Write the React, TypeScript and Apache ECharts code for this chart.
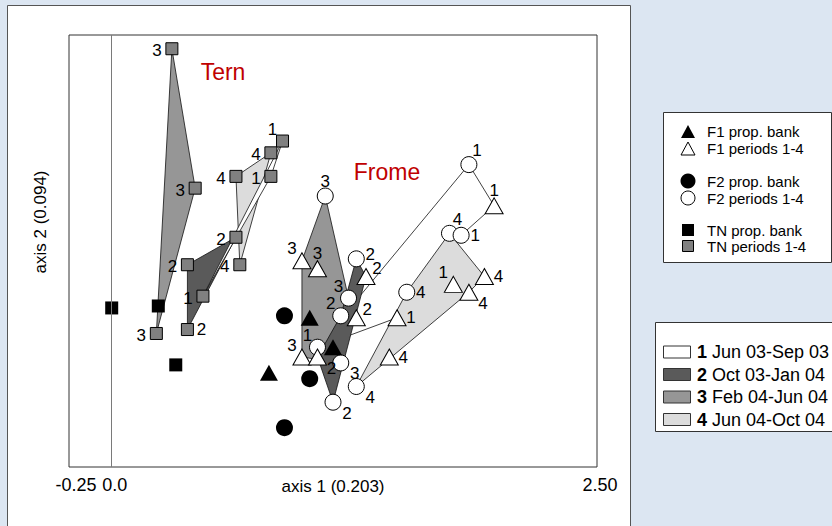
import React, { useEffect, useRef } from "react";
import * as echarts from "echarts";

const FONT = '"Liberation Sans", Arial, Helvetica, sans-serif';

// Sampling periods (legend order) and their hull fills
const periodNames = ["Jun 03-Sep 03", "Oct 03-Jan 04", "Feb 04-Jun 04", "Jun 04-Oct 04"];
const periodFills = ["#ffffff", "#5a5a5a", "#969696", "#dcdcdc"];

// Tern (TN): samples per period
const tnX = [0.31, 0.43, 0.23, 0.88, 0.82, 0.82, 0.64, 0.64, 0.66, 0.39, 0.47, 0.39];
const tnY = [1.13, 0.42, -0.32, 0.66, 0.60, 0.48, 0.48, 0.17, 0.03, 0.03, -0.13, -0.30];
const tnPeriod = [3, 3, 3, 1, 4, 1, 4, 2, 4, 2, 1, 2];
const tnLabelAt = ["L", "L", "L", "TL", "L", "L", "L", "L", "L", "L", "L", "R"];
// Tern: propagule bank
const tnBankX = [0.0, 0.24, 0.33];
const tnBankY = [-0.19, -0.18, -0.48];

// Frome F1: samples per period
const f1X = [0.98, 1.06, 1.31, 1.26, 0.98, 1.06, 1.97, 1.76, 1.92, 1.84, 1.47, 1.43];
const f1Y = [0.05, 0.01, -0.03, -0.24, -0.44, -0.44, 0.33, -0.07, -0.03, -0.11, -0.24, -0.44];
const f1Period = [3, 3, 2, 2, 3, 2, 1, 1, 4, 4, 1, 4];
const f1LabelAt = ["TL", "T", "RU", "RU", "TL", "BR", "T", "TL", "R", "BR", "R", "R"];
// Frome F1: propagule bank
const f1BankX = [1.02, 1.14, 0.81];
const f1BankY = [-0.24, -0.39, -0.52];

// Frome F2: samples per period
const f2X = [1.10, 1.26, 1.22, 1.18, 1.06, 1.18, 1.26, 1.14, 1.84, 1.74, 1.80, 1.52];
const f2Y = [0.38, 0.06, -0.14, -0.23, -0.39, -0.47, -0.59, -0.67, 0.54, 0.19, 0.18, -0.11];
const f2Period = [3, 2, 3, 2, 1, 3, 4, 2, 1, 4, 1, 4];
const f2LabelAt = ["T", "RH", "TL", "TL", "TL", "BR", "BR", "BR", "TR", "TR", "R", "R"];
// Frome F2: propagule bank
const f2BankX = [0.89, 1.02, 0.89];
const f2BankY = [-0.23, -0.55, -0.80];

// Axis 1 tick values and their printed labels
const xTickValues = [-0.22, 0, 2.5];
const xTickLabels = ["-0.25", "0.0", "2.50"];

// Period hulls: vertices refer to samples in the site arrays above (drawn in this order)
const hulls: { period: number; verts: [string, number][] }[] = [
  { period: 3, verts: [["tn", 0], ["tn", 1], ["tn", 2]] },
  { period: 4, verts: [["tn", 4], ["tn", 6], ["tn", 8]] },
  { period: 2, verts: [["tn", 9], ["tn", 7], ["tn", 11]] },
  { period: 1, verts: [["tn", 3], ["tn", 5], ["tn", 10]] },
  { period: 1, verts: [["f2", 8], ["f1", 6], ["f2", 10], ["f1", 10], ["f2", 4]] },
  { period: 4, verts: [["f2", 9], ["f1", 8], ["f1", 9], ["f2", 6], ["f2", 11]] },
  { period: 3, verts: [["f2", 0], ["f1", 0], ["f1", 4], ["f2", 5], ["f2", 2]] },
  { period: 2, verts: [["f2", 1], ["f1", 2], ["f2", 7], ["f1", 5], ["f2", 3]] },
];

const sites: Record<string, [number[], number[]]> = {
  tn: [tnX, tnY],
  f1: [f1X, f1Y],
  f2: [f2X, f2Y],
};

// where each period number sits around its marker
const labelShift: Record<string, [number, number]> = {
  T: [0, -15],
  TL: [-10, -12],
  TR: [8, -14],
  R: [14, 0],
  RH: [14, -4],
  RU: [11, -8],
  L: [-15, 2],
  BR: [14, 11],
};

function sampleItems(xs: number[], ys: number[], at: string[]) {
  return xs.map((x, i) => ({ value: [x, ys[i]], label: { offset: labelShift[at[i]] } }));
}

function bankItems(xs: number[], ys: number[]) {
  return xs.map((x, i) => [x, ys[i]]);
}

function periodLabel(periods: number[]) {
  return {
    show: true,
    position: "inside" as const,
    color: "#000",
    fontSize: 17,
    fontFamily: FONT,
    formatter: (p: any) => String(periods[p.dataIndex]),
  };
}

export default function App() {
  const ref = useRef<HTMLDivElement>(null);

  useEffect(() => {
    if (!ref.current) return;
    const chart = echarts.init(ref.current, undefined, { renderer: "svg" });

    const hullData = hulls.map((h, i) => {
      const [s, k] = h.verts[0];
      return [sites[s][0][k], sites[s][1][k], i];
    });

    const option: any = {
      animation: false,
      backgroundColor: "#dce6f2",
      textStyle: { fontFamily: FONT },
      grid: {
        left: 69,
        top: 35,
        width: 528,
        height: 432,
        show: true,
        backgroundColor: "#ffffff",
        borderColor: "#333333",
        borderWidth: 1,
        z: 1,
      },
      xAxis: {
        type: "value",
        min: -0.22,
        max: 2.5,
        axisLine: { show: false },
        axisTick: { show: false },
        splitLine: { show: false },
        axisLabel: {
          customValues: xTickValues,
          margin: 9,
          color: "#000",
          fontSize: 18,
          fontFamily: FONT,
          formatter: (v: number) => {
            const i = xTickValues.findIndex((t) => Math.abs(t - v) < 1e-6);
            if (i < 0) return "";
            return i === 0 ? `{first|${xTickLabels[i]}}` : `{rest|${xTickLabels[i]}}`;
          },
          rich: {
            first: { fontSize: 18, fontFamily: FONT, color: "#000", padding: [0, 0, 0, 14] },
            rest: { fontSize: 18, fontFamily: FONT, color: "#000", padding: [0, 0, 0, 6] },
          },
        },
      },
      yAxis: {
        type: "value",
        min: -1,
        max: 1.2,
        axisLine: { show: false },
        axisTick: { show: false },
        axisLabel: { show: false },
        splitLine: { show: false },
      },
      series: [
        {
          name: "hulls",
          type: "custom",
          z: 2,
          silent: true,
          encode: { x: 0, y: 1 },
          data: hullData,
          renderItem: (_params: any, api: any) => {
            const h = hulls[api.value(2)];
            const pts = h.verts.map(([s, k]) => api.coord([sites[s][0][k], sites[s][1][k]]));
            return {
              type: "polygon",
              shape: { points: pts },
              style: { fill: periodFills[h.period - 1], stroke: "#111", lineWidth: 0.8 },
            };
          },
          markLine: {
            silent: true,
            symbol: ["none", "none"],
            label: { show: false },
            lineStyle: { color: "#7a7a7a", width: 1, type: "solid" },
            data: [{ xAxis: 0 }],
          },
        },
        {
          name: "TN periods 1-4",
          type: "scatter",
          z: 4,
          silent: true,
          symbol: "rect",
          symbolSize: 12,
          itemStyle: { color: "#808080", borderColor: "#000", borderWidth: 1, opacity: 1 },
          label: periodLabel(tnPeriod),
          data: sampleItems(tnX, tnY, tnLabelAt),
        },
        {
          name: "TN prop. bank",
          type: "scatter",
          z: 4,
          silent: true,
          symbol: "rect",
          symbolSize: 13,
          itemStyle: { color: "#000", opacity: 1 },
          data: bankItems(tnBankX, tnBankY),
        },
        {
          name: "F2 periods 1-4",
          type: "scatter",
          z: 5,
          silent: true,
          symbol: "circle",
          symbolSize: 16,
          itemStyle: { color: "#fff", borderColor: "#000", borderWidth: 1, opacity: 1 },
          label: periodLabel(f2Period),
          data: sampleItems(f2X, f2Y, f2LabelAt),
        },
        {
          name: "F2 prop. bank",
          type: "scatter",
          z: 5,
          silent: true,
          symbol: "circle",
          symbolSize: 17,
          itemStyle: { color: "#000", opacity: 1 },
          data: bankItems(f2BankX, f2BankY),
        },
        {
          name: "F1 periods 1-4",
          type: "scatter",
          z: 6,
          silent: true,
          symbol: "triangle",
          symbolSize: [18, 16],
          itemStyle: { color: "#fff", borderColor: "#000", borderWidth: 1, opacity: 1 },
          label: periodLabel(f1Period),
          data: sampleItems(f1X, f1Y, f1LabelAt),
        },
        {
          name: "F1 prop. bank",
          type: "scatter",
          z: 6,
          silent: true,
          symbol: "triangle",
          symbolSize: [18, 16],
          itemStyle: { color: "#000", opacity: 1 },
          data: bankItems(f1BankX, f1BankY),
        },
      ],
      graphic: [
        // white chart panel
        {
          type: "rect",
          z: -10,
          silent: true,
          shape: { x: 7.5, y: 5.5, width: 623, height: 560 },
          style: { fill: "#ffffff", stroke: "#555", lineWidth: 1 },
        },
        // axis titles
        {
          type: "text",
          x: 40,
          y: 222,
          rotation: Math.PI / 2,
          style: {
            text: "axis 2 (0.094)",
            fill: "#000",
            font: `17px ${FONT}`,
            align: "center",
            verticalAlign: "middle",
          },
        },
        {
          type: "text",
          x: 333,
          y: 486,
          style: {
            text: "axis 1 (0.203)",
            fill: "#000",
            font: `17px ${FONT}`,
            align: "center",
            verticalAlign: "middle",
          },
        },
        // site names
        {
          type: "text",
          z: 10,
          x: 223,
          y: 72,
          style: { text: "Tern", fill: "#c00000", font: `23px ${FONT}`, align: "center", verticalAlign: "middle" },
        },
        {
          type: "text",
          z: 10,
          x: 387,
          y: 172,
          style: { text: "Frome", fill: "#c00000", font: `23px ${FONT}`, align: "center", verticalAlign: "middle" },
        },
        // symbol legend
        {
          type: "group",
          z: 10,
          children: [
            {
              type: "rect",
              shape: { x: 663.5, y: 112.5, width: 168, height: 150 },
              style: { fill: "#fff", stroke: "#333", lineWidth: 1 },
            },
            { type: "polygon", shape: { points: [[681, 138], [695, 138], [688, 125]] }, style: { fill: "#000" } },
            {
              type: "polygon",
              shape: { points: [[681, 155], [695, 155], [688, 142]] },
              style: { fill: "#fff", stroke: "#000", lineWidth: 1 },
            },
            { type: "circle", shape: { cx: 688, cy: 181, r: 7.5 }, style: { fill: "#000" } },
            { type: "circle", shape: { cx: 688, cy: 198, r: 7 }, style: { fill: "#fff", stroke: "#000", lineWidth: 1 } },
            { type: "rect", shape: { x: 682, y: 224, width: 12, height: 12 }, style: { fill: "#000" } },
            {
              type: "rect",
              shape: { x: 682.5, y: 240.5, width: 11, height: 11 },
              style: { fill: "#808080", stroke: "#000", lineWidth: 1 },
            },
            ...[
              ["F1 prop. bank", 131],
              ["F1 periods 1-4", 148],
              ["F2 prop. bank", 181],
              ["F2 periods 1-4", 198],
              ["TN prop. bank", 230],
              ["TN periods 1-4", 246],
            ].map(([t, y]) => ({
              type: "text",
              x: 707,
              y: y as number,
              style: { text: t as string, fill: "#000", font: `15px ${FONT}`, verticalAlign: "middle" },
            })),
          ],
        },
        // period legend
        {
          type: "group",
          z: 10,
          children: [
            {
              type: "rect",
              shape: { x: 655.5, y: 322.5, width: 200, height: 109 },
              style: { fill: "#fff", stroke: "#333", lineWidth: 1 },
            },
            ...periodNames.flatMap((name, i) => {
              const y = 352 + i * 22.5;
              return [
                {
                  type: "rect",
                  shape: { x: 663.5, y: y - 6, width: 27, height: 12 },
                  style: { fill: periodFills[i], stroke: "#333", lineWidth: 1 },
                },
                {
                  type: "text",
                  x: 697,
                  y,
                  style: {
                    text: `{b|${i + 1}} ${name}`,
                    fill: "#000",
                    font: `18px ${FONT}`,
                    verticalAlign: "middle",
                    rich: { b: { fontWeight: "bold", fontSize: 18, fontFamily: FONT, fill: "#000" } },
                  },
                },
              ];
            }),
          ],
        },
      ],
    };

    chart.setOption(option);
    return () => chart.dispose();
  }, []);

  return (
    <div
      ref={ref}
      style={{ position: "fixed", left: 0, top: 0, width: 832, height: 526 }}
    />
  );
}
